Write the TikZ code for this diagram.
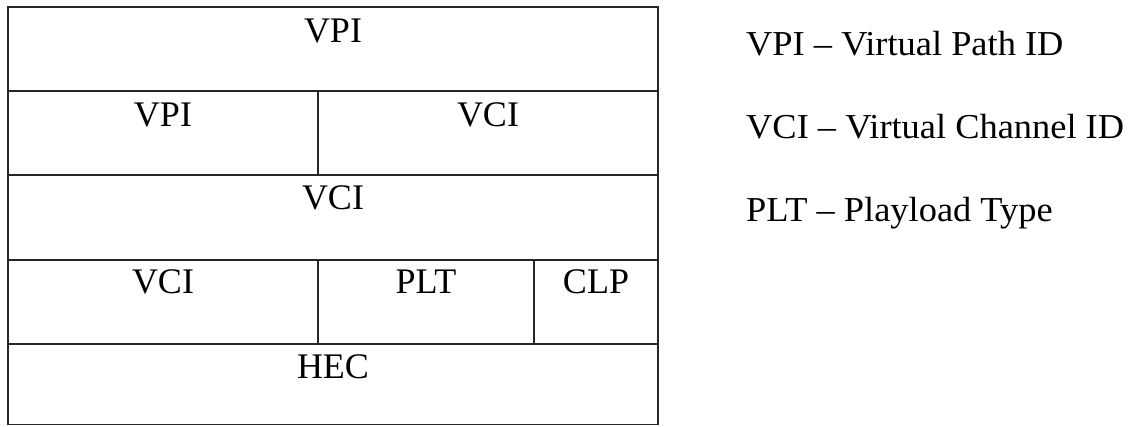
\documentclass[tikz,border=0pt]{standalone}
\usepackage{fontspec}
\setmainfont{Liberation Serif}
\newfontfamily\keyfont{Liberation Serif}[FakeStretch=1.04]
\begin{document}
\begin{tikzpicture}[x=1pt,y=-1pt,
  rule/.style={line width=1.8pt,draw=black!85},
  field/.style={anchor=base,inner sep=0pt,font=\fontsize{36}{40}\selectfont},
  legend/.style={anchor=base west,inner sep=0pt,font=\keyfont\fontsize{35}{40}\selectfont}]
  \useasboundingbox (0,0) rectangle (1129,426);
  % outer frame and row separators
  \draw[rule] (8,7) rectangle (658,424.5);
  \draw[rule] (8,91) -- (658,91);
  \draw[rule] (8,175) -- (658,175);
  \draw[rule] (8,260) -- (658,260);
  \draw[rule] (8,344) -- (658,344);
  % column separators
  \draw[rule] (318,91) -- (318,175);
  \draw[rule] (318,260) -- (318,344);
  \draw[rule] (534,260) -- (534,344);
  % field labels
  \node[field] (vpiA) at (333,42) {VPI};
  \node[field] (vpiB) at (163,126) {VPI};
  \node[field] (vciA) at (488,126) {VCI};
  \node[field] (vciB) at (333,209) {VCI};
  \node[field] (vciC) at (163,293) {VCI};
  \node[field] (plt) at (426,293) {PLT};
  \node[field] (clp) at (596,293) {CLP};
  \node[field] (hec) at (333,378) {HEC};
  % abbreviations
  \node[legend] (k1) at (746,55) {VPI – Virtual Path ID};
  \node[legend] (k2) at (746,138) {VCI – Virtual Channel ID};
  \node[legend] (k3) at (746,221) {PLT – Playload Type};
\end{tikzpicture}
\end{document}
